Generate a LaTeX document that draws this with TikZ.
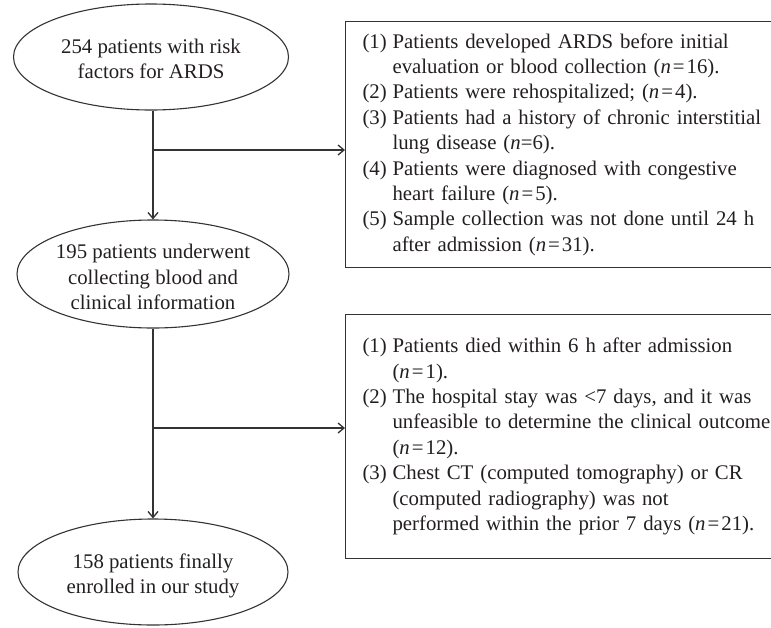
\documentclass[tikz,border=0pt]{standalone}
\usepackage{fontspec}
\setmainfont{Liberation Serif}
\usetikzlibrary{shapes.geometric,arrows.meta}
\definecolor{ln}{HTML}{333333}
\definecolor{tx}{HTML}{231F20}
\newcommand{\itm}[1]{\makebox[30pt][l]{(#1)}}
\newcommand{\ind}{\hspace*{30pt}}
\newcommand{\nn}{\textit{n}}
\newcommand{\eqs}{\kern2pt=\kern2pt}
\tikzset{
  oval/.style={draw=ln, line width=1.1pt, ellipse, inner sep=0pt},
  ovaltext/.style={align=center, text=tx, font=\fontsize{20.8}{25.4}\selectfont, inner sep=0pt},
  listbox/.style={draw=ln, line width=1.1pt, anchor=north west, align=left, text=tx,
    text width=460pt, inner xsep=17pt, inner ysep=0pt,
    font=\fontsize{20.8}{25.4}\selectfont},
  arr/.style={draw=ln, line width=1.1pt, -{Straight Barb[length=6pt,width=10pt,line width=1.3pt]}},
  plain/.style={draw=ln, line width=1.1pt}
}
\begin{document}
\begin{tikzpicture}[x=1pt,y=-1pt]
\useasboundingbox (0,0) rectangle (771,627);
\clip (0,0) rectangle (771,627);
% ovals
\node[oval, minimum width=275pt, minimum height=106pt] (e1) at (151,57) {};
\node[ovaltext] (e1t) at (151,59) {254 patients with risk\\factors for ARDS};
\node[oval, minimum width=272pt, minimum height=108pt] (e2) at (153,274) {};
\node[ovaltext] (e2t) at (153,277) {195 patients underwent\\collecting blood and\\clinical information};
\node[oval, minimum width=270pt, minimum height=106pt] (e3) at (153,572) {};
\node[ovaltext] (e3t) at (153,576) {158 patients finally\\enrolled in our study};
% boxes
\node[listbox, minimum height=246pt] (b1) at (345,21) {%
\itm{1}Patients developed ARDS before initial\\
\ind evaluation or blood collection (\nn\eqs16).\\
\itm{2}Patients were rehospitalized; (\nn\eqs4).\\
\itm{3}Patients had a history of chronic interstitial\\
\ind lung disease (\nn=6).\\
\itm{4}Patients were diagnosed with congestive\\
\ind heart failure (\nn\eqs5).\\
\itm{5}Sample collection was not done until 24 h\\
\ind after admission (\nn\eqs31).};
\node[listbox, minimum height=244pt] (b2) at (345,314) {%
\itm{1}Patients died within 6 h after admission\\
\ind (\nn\eqs1).\\
\itm{2}The hospital stay was <7 days, and it was\\
\ind unfeasible to determine the clinical outcome\\
\ind (\nn\eqs12).\\
\itm{3}Chest CT (computed tomography) or CR\\
\ind (computed radiography) was not\\
\ind performed within the prior 7 days (\nn\eqs21).};
% connectors
\coordinate (j1) at (153,150);
\coordinate (j2) at (153,428);
\draw[arr] (e1.south -| e2.north) -- (e2.north);
\draw[arr] (j1) -- (j1 -| b1.west);
\draw[arr] (e2.south) -- (e3.north);
\draw[arr] (j2) -- (j2 -| b2.west);
\end{tikzpicture}
\end{document}
